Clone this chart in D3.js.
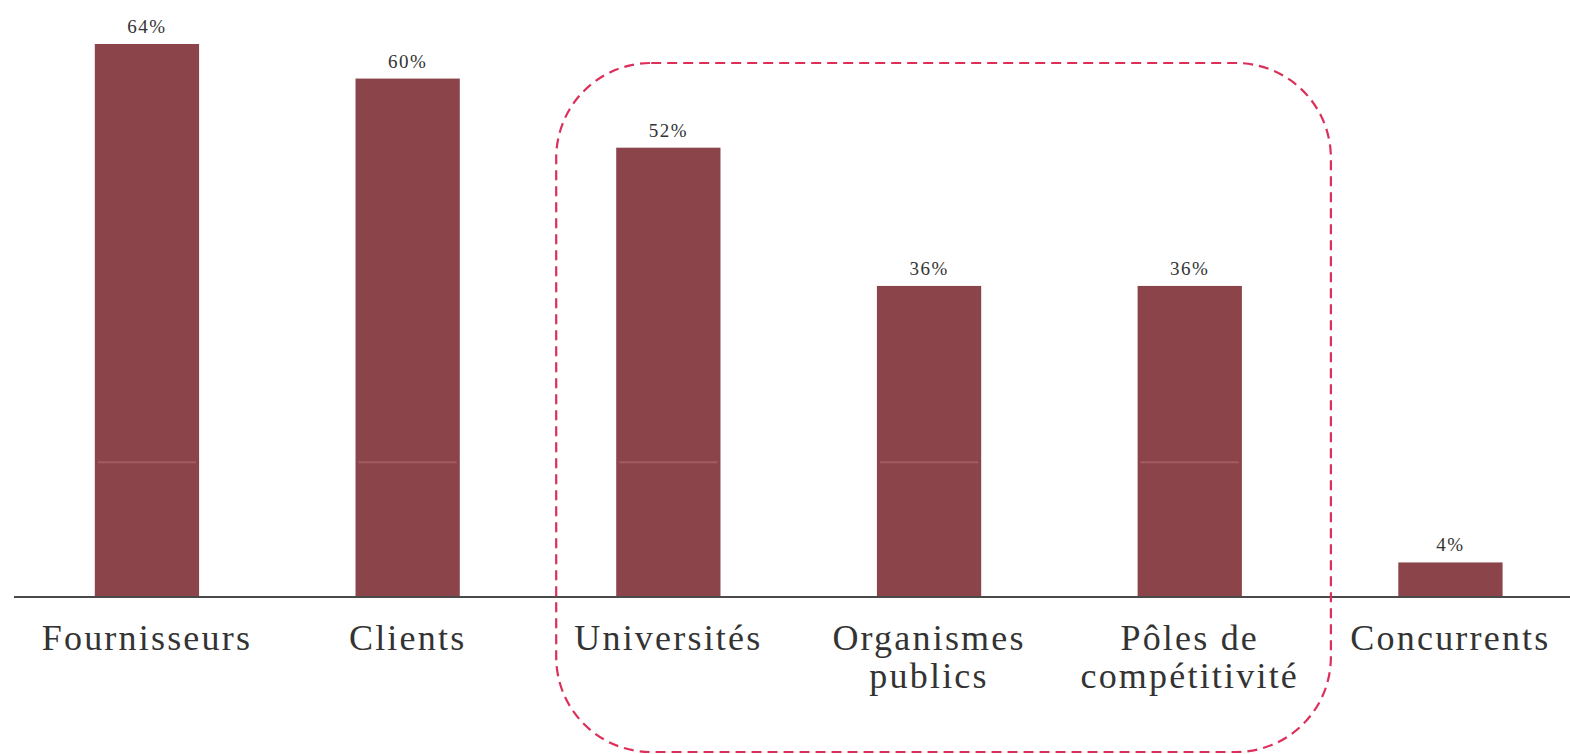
<!DOCTYPE html>
<html>
<head>
<meta charset="utf-8">
<script src="https://cdn.jsdelivr.net/npm/d3@7"></script>
<style>
  html, body { margin: 0; padding: 0; background: #fff; }
  svg { display: block; }
  .serif { font-family: "Liberation Serif", "Times New Roman", "DejaVu Serif", serif; }
</style>
</head>
<body>
<svg id="chart" width="1570" height="754"></svg>
<script>
const categories = [
  ["Fournisseurs"],
  ["Clients"],
  ["Universités"],
  ["Organismes", "publics"],
  ["Pôles de", "compétitivité"],
  ["Concurrents"]
];
const values = [64, 60, 52, 36, 36, 4];
const valueLabels = ["64%", "60%", "52%", "36%", "36%", "4%"];
const highlighted = ["Universités", "Organismes", "Pôles de"];

const W = 1570, H = 754;
const baseY = 597;
const svg = d3.select("#chart");

const keys = categories.map(c => c[0]);
const x = d3.scaleBand()
  .domain(keys)
  .range([16.6, 1580.8])
  .paddingInner(0.6)
  .paddingOuter(0.3);

const y = d3.scaleLinear()
  .domain([0, 64])
  .range([baseY, 44]);

const data = keys.map((k, i) => ({ key: k, lines: categories[i], v: values[i], label: valueLabels[i] }));

// bars
svg.append("g").selectAll("rect")
  .data(data)
  .join("rect")
  .attr("x", d => x(d.key))
  .attr("y", d => y(d.v))
  .attr("width", x.bandwidth())
  .attr("height", d => y(0) - y(d.v))
  .attr("fill", "#8b444a");

// faint scan line inside bars
const faintV = 15.6;
svg.append("g").selectAll("line")
  .data(data.filter(d => d.v > faintV))
  .join("line")
  .attr("x1", d => x(d.key) + 3)
  .attr("x2", d => x(d.key) + x.bandwidth() - 3)
  .attr("y1", y(faintV))
  .attr("y2", y(faintV))
  .attr("stroke", "#a25c62")
  .attr("stroke-width", 2);

// axis line
svg.append("line")
  .attr("x1", 14).attr("x2", W)
  .attr("y1", baseY).attr("y2", baseY)
  .attr("stroke", "#4a4a4a")
  .attr("stroke-width", 2);

// value labels
svg.append("g").selectAll("text")
  .data(data)
  .join("text")
  .attr("class", "serif")
  .attr("x", d => x(d.key) + x.bandwidth() / 2)
  .attr("y", d => y(d.v) - 11)
  .attr("text-anchor", "middle")
  .attr("font-size", 19)
  .attr("letter-spacing", 1.5)
  .attr("fill", "#333")
  .text(d => d.label);

// category labels
const lab = svg.append("g").selectAll("text")
  .data(data)
  .join("text")
  .attr("class", "serif")
  .attr("x", d => x(d.key) + x.bandwidth() / 2)
  .attr("y", 650)
  .attr("text-anchor", "middle")
  .attr("font-size", 36)
  .attr("letter-spacing", 2.2)
  .attr("fill", "#333");
lab.selectAll("tspan")
  .data(d => d.lines.map((t, i) => ({ t, i, cx: x(d.key) + x.bandwidth() / 2 })))
  .join("tspan")
  .attr("x", t => t.cx)
  .attr("dy", t => t.i === 0 ? 0 : 38)
  .text(t => t.t);

// dashed highlight box around the middle group
const hx0 = x(highlighted[0]) - 60;
const hx1 = x(highlighted[highlighted.length - 1]) + x.bandwidth() + 89;
svg.append("rect")
  .attr("x", hx0)
  .attr("y", 63)
  .attr("width", hx1 - hx0)
  .attr("height", 752 - 63)
  .attr("rx", 95)
  .attr("ry", 95)
  .attr("fill", "none")
  .attr("stroke", "#dc2f5a")
  .attr("stroke-width", 2.2)
  .attr("stroke-dasharray", "10 6");
</script>
</body>
</html>
